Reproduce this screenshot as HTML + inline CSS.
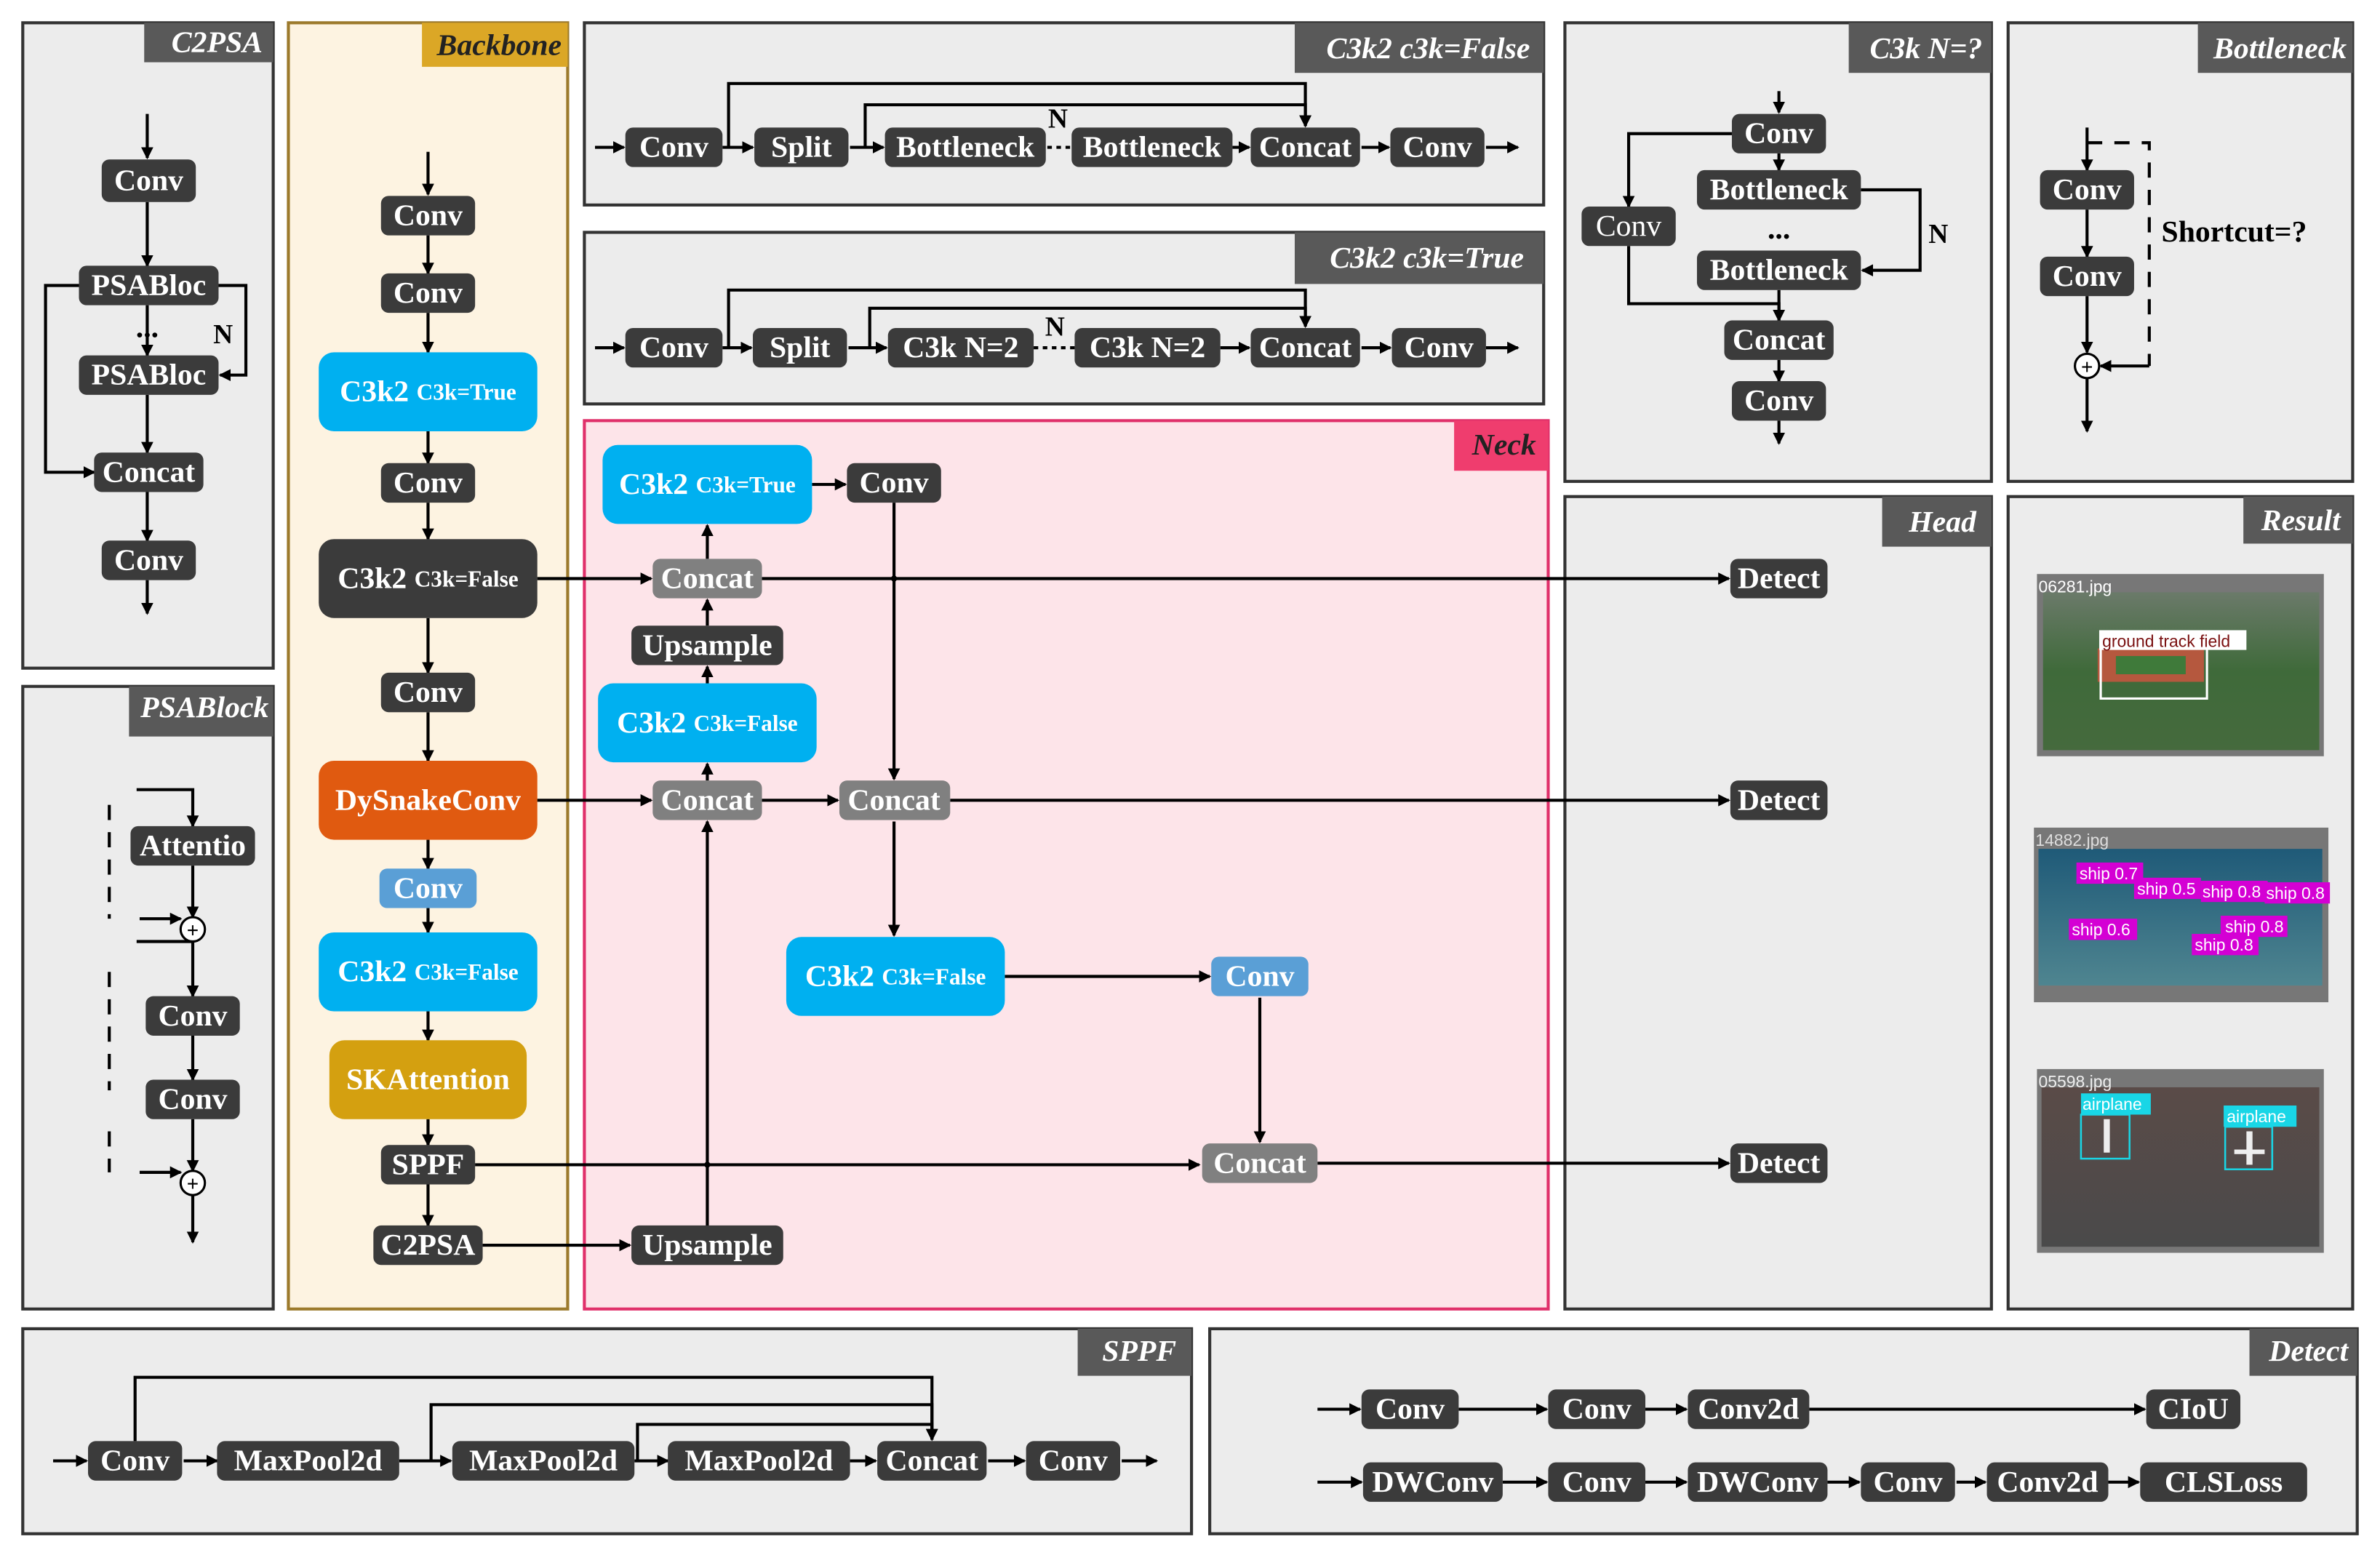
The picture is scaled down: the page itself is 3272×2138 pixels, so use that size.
<!DOCTYPE html>
<html><head><meta charset="utf-8"><style>
html,body{margin:0;padding:0;background:#fff;}
svg{display:block;}
text{font-family:"Liberation Serif",serif;font-weight:bold;}
.n{fill:#3b3b3b;}
.t{fill:#fff;font-size:20px;text-anchor:middle;dominant-baseline:central;}
.s{font-size:15px;}
.tab{fill:#595959;}
.tt{fill:#fff;font-size:20px;font-style:italic;text-anchor:end;dominant-baseline:central;}
.p{fill:#ececec;stroke:#333;stroke-width:2;}
.l{stroke:#000;stroke-width:2;fill:none;}
.a{stroke:#000;stroke-width:2;fill:none;marker-end:url(#ar);}
.d{stroke:#000;stroke-width:2;fill:none;stroke-dasharray:10 8;}
.im, .im text{font-family:"Liberation Sans",sans-serif;font-weight:normal;font-size:11px;}
</style></head><body>
<svg width="3272" height="2138" viewBox="0 0 1568 1024" preserveAspectRatio="none" xmlns="http://www.w3.org/2000/svg">
<defs><marker id="ar" markerWidth="8" markerHeight="8" refX="7" refY="4" orient="auto" markerUnits="userSpaceOnUse"><path d="M0,0 L8,4 L0,8 z" fill="#000"/></marker>
<linearGradient id="g1" x1="0" y1="0" x2="0" y2="1"><stop offset="0" stop-color="#6b7a6a"/><stop offset="0.5" stop-color="#3f6a3a"/><stop offset="1" stop-color="#456a3d"/></linearGradient>
<linearGradient id="g2" x1="0" y1="0" x2="0" y2="1"><stop offset="0" stop-color="#1f5a78"/><stop offset="1" stop-color="#4f8590"/></linearGradient>
<linearGradient id="g3" x1="0" y1="0" x2="0" y2="1"><stop offset="0" stop-color="#5a4b48"/><stop offset="1" stop-color="#4a4a4a"/></linearGradient>
</defs>
<rect width="1568" height="1024" fill="#fff"/>

<!-- panels -->
<rect class="p" x="15" y="15" width="165" height="425"/>
<rect class="tab" x="95" y="15" width="85" height="26"/><text class="tt" x="173" y="28">C2PSA</text>
<rect class="p" x="15" y="452" width="165" height="410"/>
<rect class="tab" x="85" y="452" width="95" height="33"/><text class="tt" x="177" y="466">PSABlock</text>
<rect x="190" y="15" width="184" height="847" fill="#fdf3e1" stroke="#9c7a2c" stroke-width="2"/>
<rect x="278" y="15" width="96" height="29" fill="#dba726"/><text class="tt" x="370" y="30" style="fill:#222">Backbone</text>
<rect class="p" x="385" y="15" width="632" height="120"/>
<rect class="tab" x="853" y="15" width="164" height="33"/><text class="tt" x="1008" y="32">C3k2 c3k=False</text>
<rect class="p" x="385" y="153" width="632" height="113"/>
<rect class="tab" x="853" y="153" width="164" height="34"/><text class="tt" x="1004" y="170">C3k2 c3k=True</text>
<rect x="385" y="277" width="635" height="585" fill="#fde4e9" stroke="#e0306a" stroke-width="2"/>
<rect x="958" y="277" width="62" height="33" fill="#ef3d6e"/><text class="tt" x="1012" y="293" style="fill:#222">Neck</text>
<rect class="p" x="1031" y="15" width="281" height="302"/>
<rect class="tab" x="1218" y="15" width="94" height="33"/><text class="tt" x="1306" y="32">C3k N=?</text>
<rect class="p" x="1323" y="15" width="227" height="302"/>
<rect class="tab" x="1448" y="15" width="102" height="33"/><text class="tt" x="1546" y="32">Bottleneck</text>
<rect class="p" x="1031" y="327" width="281" height="535"/>
<rect class="tab" x="1240" y="327" width="72" height="33"/><text class="tt" x="1302" y="344">Head</text>
<rect class="p" x="1323" y="327" width="227" height="535"/>
<rect class="tab" x="1478" y="327" width="72" height="31"/><text class="tt" x="1542" y="343">Result</text>
<rect class="p" x="15" y="875" width="770" height="135"/>
<rect class="tab" x="710" y="875" width="75" height="31"/><text class="tt" x="775" y="890">SPPF</text>
<rect class="p" x="797" y="875" width="756" height="135"/>
<rect class="tab" x="1482" y="875" width="71" height="31"/><text class="tt" x="1547" y="890">Detect</text>

<!-- C2PSA -->
<path class="a" d="M97,75 V104"/><path class="a" d="M97,133 V175"/><path class="a" d="M97,201 V234"/>
<path class="a" d="M97,260 V298"/><path class="a" d="M97,324 V356"/><path class="a" d="M97,382 V404"/>
<path class="a" d="M52,188 H30 V311 H62"/><path class="a" d="M144,188 H162 V247 H145"/>
<text x="97" y="222" style="font-size:20px;text-anchor:middle">...</text><text x="147" y="226" style="font-size:18px;text-anchor:middle">N</text>
<rect class="n" x="67" y="105" width="62" height="28" rx="5"/><text class="t" x="98" y="119">Conv</text>
<rect class="n" x="52" y="175" width="92" height="26" rx="5"/><text class="t" x="98" y="188">PSABloc</text>
<rect class="n" x="52" y="234" width="92" height="26" rx="5"/><text class="t" x="98" y="247">PSABloc</text>
<rect class="n" x="62" y="298" width="72" height="26" rx="5"/><text class="t" x="98" y="311">Concat</text>
<rect class="n" x="67" y="356" width="62" height="26" rx="5"/><text class="t" x="98" y="369">Conv</text>

<!-- PSABlock -->
<path class="a" d="M90,520 H127 V544"/><path class="a" d="M127,570 V604"/><path class="a" d="M92,605 H119"/>
<path class="a" d="M127,620 H90 M127,620 V656"/><path class="a" d="M127,682 V711"/><path class="a" d="M127,737 V771"/>
<path class="a" d="M92,772 H119"/><path class="a" d="M127,787 V818"/>
<path class="d" d="M72,530 V605 M72,640 V718 M72,745 V772"/>
<rect class="n" x="86" y="544" width="82" height="26" rx="5"/><text class="t" x="127" y="557">Attentio</text>
<circle cx="127" cy="612" r="8" fill="#fff" stroke="#000" stroke-width="1.5"/><text x="127" y="613" style="font-size:14px;text-anchor:middle;dominant-baseline:central">+</text>
<rect class="n" x="96" y="656" width="62" height="26" rx="5"/><text class="t" x="127" y="669">Conv</text>
<rect class="n" x="96" y="711" width="62" height="26" rx="5"/><text class="t" x="127" y="724">Conv</text>
<circle cx="127" cy="779" r="8" fill="#fff" stroke="#000" stroke-width="1.5"/><text x="127" y="780" style="font-size:14px;text-anchor:middle;dominant-baseline:central">+</text>

<!-- Backbone -->
<path class="a" d="M282,100 V128"/><path class="a" d="M282,155 V180"/><path class="a" d="M282,206 V232"/>
<path class="a" d="M282,284 V305"/><path class="a" d="M282,331 V355"/><path class="a" d="M282,407 V443"/>
<path class="a" d="M282,469 V501"/><path class="a" d="M282,553 V572"/><path class="a" d="M282,598 V614"/>
<path class="a" d="M282,666 V685"/><path class="a" d="M282,737 V754"/><path class="a" d="M282,780 V807"/>
<rect class="n" x="251" y="129" width="62" height="26" rx="5"/><text class="t" x="282" y="142">Conv</text>
<rect class="n" x="251" y="180" width="62" height="26" rx="5"/><text class="t" x="282" y="193">Conv</text>
<rect x="210" y="232" width="144" height="52" rx="10" fill="#00b0f0"/><text class="t" x="282" y="258">C3k2 <tspan class="s">C3k=True</tspan></text>
<rect class="n" x="251" y="305" width="62" height="26" rx="5"/><text class="t" x="282" y="318">Conv</text>
<rect x="210" y="355" width="144" height="52" rx="10" fill="#3b3b3b"/><text class="t" x="282" y="381">C3k2 <tspan class="s">C3k=False</tspan></text>
<rect class="n" x="251" y="443" width="62" height="26" rx="5"/><text class="t" x="282" y="456">Conv</text>
<rect x="210" y="501" width="144" height="52" rx="10" fill="#e05a10"/><text class="t" x="282" y="527">DySnakeConv</text>
<rect x="250" y="572" width="64" height="26" rx="5" fill="#5a9fd6"/><text class="t" x="282" y="585">Conv</text>
<rect x="210" y="614" width="144" height="52" rx="10" fill="#00b0f0"/><text class="t" x="282" y="640">C3k2 <tspan class="s">C3k=False</tspan></text>
<rect x="217" y="685" width="130" height="52" rx="10" fill="#d4a010"/><text class="t" x="282" y="711">SKAttention</text>
<rect class="n" x="251" y="754" width="62" height="26" rx="5"/><text class="t" x="282" y="767">SPPF</text>
<rect class="n" x="246" y="807" width="72" height="26" rx="5"/><text class="t" x="282" y="820">C2PSA</text>

<!-- Neck lines -->
<path class="a" d="M354,381 H429"/><path class="a" d="M502,381 H1139"/><circle cx="589" cy="381" r="2" fill="#000"/>
<path class="a" d="M354,527 H429"/><path class="a" d="M502,527 H552"/><path class="a" d="M626,527 H1139"/>
<path class="a" d="M313,767 H790"/><circle cx="466" cy="767" r="2" fill="#000"/>
<path class="a" d="M318,820 H415"/><path class="a" d="M466,808 V541"/>
<path class="a" d="M589,331 V513"/><path class="a" d="M589,541 V616"/>
<path class="a" d="M662,643 H797"/><path class="a" d="M830,657 V752"/><path class="a" d="M868,766 H1139"/>
<path class="a" d="M466,368 V346"/><path class="a" d="M466,412 V395"/><path class="a" d="M466,450 V439"/><path class="a" d="M466,514 V503"/>
<path class="a" d="M535,319 H557"/>
<rect x="397" y="293" width="138" height="52" rx="10" fill="#00b0f0"/><text class="t" x="466" y="319">C3k2 <tspan class="s">C3k=True</tspan></text>
<rect class="n" x="558" y="305" width="62" height="26" rx="5"/><text class="t" x="589" y="318">Conv</text>
<rect x="430" y="368" width="72" height="26" rx="5" fill="#808080"/><text class="t" x="466" y="381">Concat</text>
<rect class="n" x="416" y="412" width="100" height="26" rx="5"/><text class="t" x="466" y="425">Upsample</text>
<rect x="394" y="450" width="144" height="52" rx="10" fill="#00b0f0"/><text class="t" x="466" y="476">C3k2 <tspan class="s">C3k=False</tspan></text>
<rect x="430" y="514" width="72" height="26" rx="5" fill="#808080"/><text class="t" x="466" y="527">Concat</text>
<rect x="553" y="514" width="73" height="26" rx="5" fill="#808080"/><text class="t" x="589" y="527">Concat</text>
<rect x="518" y="617" width="144" height="52" rx="10" fill="#00b0f0"/><text class="t" x="590" y="643">C3k2 <tspan class="s">C3k=False</tspan></text>
<rect x="798" y="630" width="64" height="26" rx="5" fill="#5a9fd6"/><text class="t" x="830" y="643">Conv</text>
<rect x="792" y="753" width="76" height="26" rx="5" fill="#808080"/><text class="t" x="830" y="766">Concat</text>
<rect class="n" x="416" y="807" width="100" height="26" rx="5"/><text class="t" x="466" y="820">Upsample</text>

<!-- Head -->
<rect class="n" x="1140" y="368" width="64" height="26" rx="5"/><text class="t" x="1172" y="381">Detect</text>
<rect class="n" x="1140" y="514" width="64" height="26" rx="5"/><text class="t" x="1172" y="527">Detect</text>
<rect class="n" x="1140" y="753" width="64" height="26" rx="5"/><text class="t" x="1172" y="766">Detect</text>

<!-- C3k2 False -->
<path class="a" d="M392,97 H411"/><path class="a" d="M476,97 H496"/><path class="a" d="M560,97 H582"/>
<path class="l" d="M690,97 H706" stroke-dasharray="3 3"/><path class="a" d="M812,97 H823"/><path class="a" d="M897,97 H915"/><path class="a" d="M979,97 H1000"/>
<path class="a" d="M480,97 V55 H860 V83"/><path class="a" d="M570,97 V69 H860 V83"/>
<text x="697" y="84" style="font-size:18px;text-anchor:middle">N</text>
<rect class="n" x="412" y="84" width="64" height="26" rx="5"/><text class="t" x="444" y="97">Conv</text>
<rect class="n" x="497" y="84" width="62" height="26" rx="5"/><text class="t" x="528" y="97">Split</text>
<rect class="n" x="583" y="84" width="106" height="26" rx="5"/><text class="t" x="636" y="97">Bottleneck</text>
<rect class="n" x="706" y="84" width="106" height="26" rx="5"/><text class="t" x="759" y="97">Bottleneck</text>
<rect class="n" x="824" y="84" width="72" height="26" rx="5"/><text class="t" x="860" y="97">Concat</text>
<rect class="n" x="916" y="84" width="62" height="26" rx="5"/><text class="t" x="947" y="97">Conv</text>

<!-- C3k2 True -->
<path class="a" d="M392,229 H411"/><path class="a" d="M476,229 H495"/><path class="a" d="M559,229 H584"/>
<path class="l" d="M681,229 H708" stroke-dasharray="3 3"/><path class="a" d="M804,229 H823"/><path class="a" d="M897,229 H916"/><path class="a" d="M979,229 H1000"/>
<path class="a" d="M480,229 V191 H860 V215"/><path class="a" d="M573,229 V203 H860 V215"/>
<text x="695" y="221" style="font-size:18px;text-anchor:middle">N</text>
<rect class="n" x="412" y="216" width="64" height="26" rx="5"/><text class="t" x="444" y="229">Conv</text>
<rect class="n" x="496" y="216" width="62" height="26" rx="5"/><text class="t" x="527" y="229">Split</text>
<rect class="n" x="585" y="216" width="96" height="26" rx="5"/><text class="t" x="633" y="229">C3k N=2</text>
<rect class="n" x="708" y="216" width="96" height="26" rx="5"/><text class="t" x="756" y="229">C3k N=2</text>
<rect class="n" x="824" y="216" width="72" height="26" rx="5"/><text class="t" x="860" y="229">Concat</text>
<rect class="n" x="917" y="216" width="62" height="26" rx="5"/><text class="t" x="948" y="229">Conv</text>

<!-- C3k -->
<path class="a" d="M1172,60 V74"/><path class="a" d="M1172,101 V112"/><path class="a" d="M1172,191 V211"/><path class="a" d="M1172,237 V251"/><path class="a" d="M1172,277 V292"/>
<path class="a" d="M1141,88 H1073 V136"/><path class="a" d="M1073,162 V200 H1172 V211"/>
<path class="a" d="M1226,125 H1265 V178 H1227"/>
<text x="1172" y="157" style="font-size:20px;text-anchor:middle">...</text><text x="1277" y="160" style="font-size:18px;text-anchor:middle">N</text>
<rect class="n" x="1141" y="75" width="62" height="26" rx="5"/><text class="t" x="1172" y="88">Conv</text>
<rect class="n" x="1118" y="112" width="108" height="26" rx="5"/><text class="t" x="1172" y="125">Bottleneck</text>
<rect class="n" x="1118" y="165" width="108" height="26" rx="5"/><text class="t" x="1172" y="178">Bottleneck</text>
<rect class="n" x="1136" y="211" width="72" height="26" rx="5"/><text class="t" x="1172" y="224">Concat</text>
<rect class="n" x="1141" y="251" width="62" height="26" rx="5"/><text class="t" x="1172" y="264">Conv</text>
<rect class="n" x="1042" y="136" width="62" height="26" rx="5"/><text class="t" x="1073" y="149" style="font-weight:normal">Conv</text>

<!-- Bottleneck -->
<path class="a" d="M1375,84 V112"/><path class="a" d="M1375,138 V169"/><path class="a" d="M1375,195 V232"/><path class="a" d="M1375,249 V284"/>
<path class="d" d="M1375,94 H1416 V241"/><path class="a" d="M1416,241 H1384"/>
<text x="1424" y="159" style="font-size:20px">Shortcut=?</text>
<rect class="n" x="1344" y="112" width="62" height="26" rx="5"/><text class="t" x="1375" y="125">Conv</text>
<rect class="n" x="1344" y="169" width="62" height="26" rx="5"/><text class="t" x="1375" y="182">Conv</text>
<circle cx="1375" cy="241" r="8" fill="#fff" stroke="#000" stroke-width="1.5"/><text x="1375" y="242" style="font-size:14px;text-anchor:middle;dominant-baseline:central">+</text>

<!-- Result images -->
<rect x="1342" y="378" width="189" height="120" fill="#777"/>
<rect x="1346" y="390" width="182" height="104" fill="url(#g1)"/>
<rect x="1382" y="427" width="70" height="22" fill="#b5583e"/><rect x="1394" y="432" width="46" height="12" fill="#3f7a3a"/>
<rect x="1384" y="426" width="70" height="34" fill="none" stroke="#fff" stroke-width="1.5"/>
<rect x="1383" y="415" width="97" height="13" fill="#fff"/><text class="im" x="1385" y="426" fill="#7a1010">ground track field</text>
<text class="im" x="1343" y="390" fill="#fff">06281.jpg</text>
<rect x="1340" y="545" width="194" height="115" fill="#777"/>
<rect x="1343" y="559" width="187" height="90" fill="url(#g2)"/>
<text class="im" x="1341" y="557" fill="#ddd">14882.jpg</text>
<g fill="#d400d4"><rect x="1368" y="568" width="44" height="14"/><rect x="1406" y="578" width="44" height="14"/><rect x="1450" y="580" width="44" height="14"/><rect x="1492" y="581" width="43" height="14"/><rect x="1363" y="605" width="45" height="14"/><rect x="1463" y="603" width="44" height="14"/><rect x="1444" y="615" width="44" height="14"/></g>
<g class="im" fill="#fff"><text x="1370" y="579">ship 0.7</text><text x="1408" y="589">ship 0.5</text><text x="1451" y="591">ship 0.8</text><text x="1493" y="592">ship 0.8</text><text x="1365" y="616">ship 0.6</text><text x="1466" y="614">ship 0.8</text><text x="1446" y="626">ship 0.8</text></g>
<rect x="1342" y="704" width="189" height="121" fill="#777"/>
<rect x="1345" y="716" width="183" height="105" fill="url(#g3)"/>
<text class="im" x="1343" y="716" fill="#eee">05598.jpg</text>
<rect x="1371" y="720" width="46" height="14" fill="#19d6e6"/><rect x="1465" y="728" width="48" height="14" fill="#19d6e6"/>
<text class="im" x="1372" y="731" fill="#fff">airplane</text><text class="im" x="1467" y="739" fill="#fff">airplane</text>
<rect x="1371" y="734" width="32" height="29" fill="none" stroke="#19d6e6" stroke-width="1.2"/><rect x="1466" y="742" width="31" height="28" fill="none" stroke="#19d6e6" stroke-width="1.2"/>
<rect x="1386" y="737" width="4" height="22" fill="#eee"/><rect x="1480" y="745" width="4" height="22" fill="#eee"/><rect x="1472" y="757" width="20" height="3" fill="#eee"/>

<!-- SPPF -->
<path class="a" d="M35,962 H57"/><path class="a" d="M121,962 H143"/><path class="a" d="M263,962 H297"/><path class="a" d="M418,962 H440"/><path class="a" d="M560,962 H577"/><path class="a" d="M651,962 H675"/><path class="a" d="M739,962 H762"/>
<path class="a" d="M89,949 V907 H614 V948"/><path class="a" d="M284,962 V925 H614 V948"/><path class="a" d="M420,962 V938 H614 V948"/>
<rect class="n" x="58" y="949" width="62" height="26" rx="5"/><text class="t" x="89" y="962">Conv</text>
<rect class="n" x="143" y="949" width="120" height="26" rx="5"/><text class="t" x="203" y="962">MaxPool2d</text>
<rect class="n" x="298" y="949" width="120" height="26" rx="5"/><text class="t" x="358" y="962">MaxPool2d</text>
<rect class="n" x="440" y="949" width="120" height="26" rx="5"/><text class="t" x="500" y="962">MaxPool2d</text>
<rect class="n" x="578" y="949" width="72" height="26" rx="5"/><text class="t" x="614" y="962">Concat</text>
<rect class="n" x="676" y="949" width="62" height="26" rx="5"/><text class="t" x="707" y="962">Conv</text>

<!-- Detect -->
<path class="a" d="M868,928 H896"/><path class="a" d="M961,928 H1019"/><path class="a" d="M1084,928 H1111"/><path class="a" d="M1192,928 H1413"/>
<path class="a" d="M868,976 H897"/><path class="a" d="M990,976 H1019"/><path class="a" d="M1084,976 H1111"/><path class="a" d="M1204,976 H1225"/><path class="a" d="M1289,976 H1308"/><path class="a" d="M1389,976 H1409"/>
<rect class="n" x="897" y="915" width="64" height="26" rx="5"/><text class="t" x="929" y="928">Conv</text>
<rect class="n" x="1020" y="915" width="64" height="26" rx="5"/><text class="t" x="1052" y="928">Conv</text>
<rect class="n" x="1112" y="915" width="80" height="26" rx="5"/><text class="t" x="1152" y="928">Conv2d</text>
<rect class="n" x="1414" y="915" width="62" height="26" rx="5"/><text class="t" x="1445" y="928">CIoU</text>
<rect class="n" x="898" y="963" width="92" height="26" rx="5"/><text class="t" x="944" y="976">DWConv</text>
<rect class="n" x="1020" y="963" width="64" height="26" rx="5"/><text class="t" x="1052" y="976">Conv</text>
<rect class="n" x="1112" y="963" width="92" height="26" rx="5"/><text class="t" x="1158" y="976">DWConv</text>
<rect class="n" x="1226" y="963" width="62" height="26" rx="5"/><text class="t" x="1257" y="976">Conv</text>
<rect class="n" x="1309" y="963" width="80" height="26" rx="5"/><text class="t" x="1349" y="976">Conv2d</text>
<rect class="n" x="1410" y="963" width="110" height="26" rx="5"/><text class="t" x="1465" y="976">CLSLoss</text>
</svg>
</body></html>
